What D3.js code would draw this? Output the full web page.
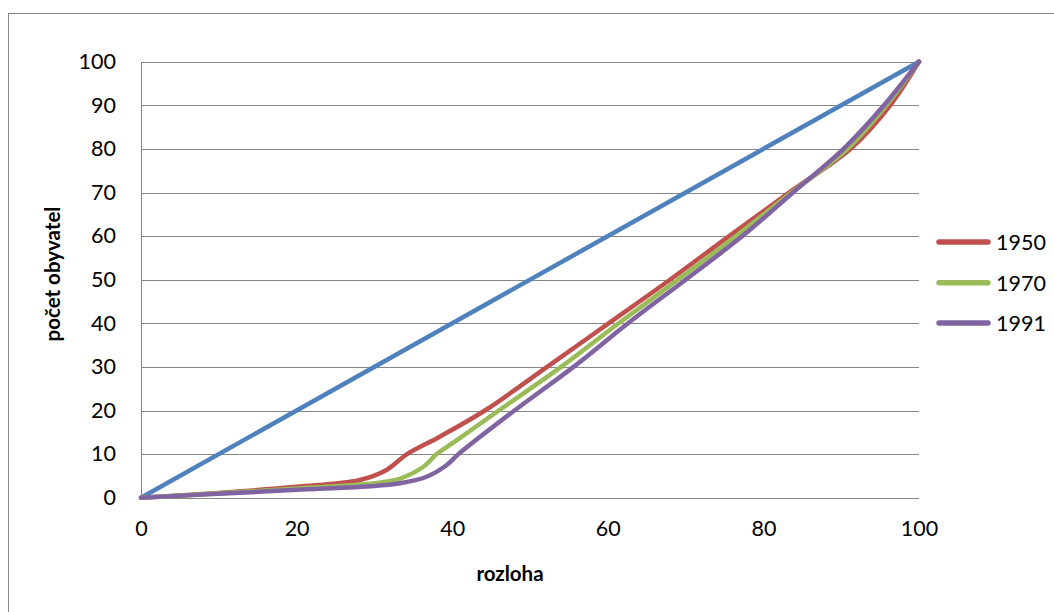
<!DOCTYPE html>
<html>
<head>
<meta charset="utf-8">
<script src="https://cdn.jsdelivr.net/npm/d3@7"></script>
<style>
  html, body { margin: 0; padding: 0; background: #fff; }
  svg { display: block; }
</style>
</head>
<body>
<svg id="chart" width="1054" height="612"></svg>
<script>
// ---- data ----
const xTicks = [0, 20, 40, 60, 80, 100];
const yTicks = [0, 10, 20, 30, 40, 50, 60, 70, 80, 90, 100];

const equalX = [0, 100];
const equalY = [0, 100];

const x1950 = [0, 10, 20, 28, 31.5, 34.2, 38.4, 44.2, 52.2, 60.1, 68.0, 75.6, 83.3, 91.2, 96.3, 100];
const y1950 = [0, 1.1, 2.5, 4, 6.3, 10, 14, 20, 30, 40, 50, 60, 70, 80, 90, 100];

const x1970 = [0, 10, 20, 30, 33.3, 36.3, 38, 40.6, 46.0, 54.0, 61.4, 69.0, 76.5, 83.6, 90.8, 95.8, 100];
const y1970 = [0, 1, 2.1, 3.3, 4.4, 7.1, 10, 13.2, 20, 30, 40, 50, 60, 70, 80, 90, 100];

const x1991 = [0, 10, 20, 30, 33.3, 36.7, 39.3, 40.8, 48.0, 55.6, 62.6, 70.0, 77.3, 83.8, 90.3, 95.5, 100];
const y1991 = [0, 0.9, 1.8, 2.7, 3.3, 4.8, 7.5, 10, 20, 30, 40, 50, 60, 70, 80, 90, 100];

const seriesNames = ["1950", "1970", "1991"];
const xTitle = "rozloha";
const yTitle = "počet obyvatel";

// ---- drawing ----
const svg = d3.select("#chart");
const font = "Lato, 'Open Sans', sans-serif";

svg.append("rect")
  .attr("x", 8.5).attr("y", 13.5)
  .attr("width", 1100).attr("height", 700)
  .attr("fill", "#fff").attr("stroke", "#868686").attr("stroke-width", 1);

const x = d3.scaleLinear().domain([0, 100]).range([141, 919]);
const y = d3.scaleLinear().domain([0, 100]).range([497.7, 61.7]);

// gridlines
svg.append("g").selectAll("line").data(yTicks).join("line")
  .attr("x1", x(0)).attr("x2", x(100))
  .attr("y1", d => Math.round(y(d)) + 0.5).attr("y2", d => Math.round(y(d)) + 0.5)
  .attr("stroke", "#868686").attr("stroke-width", 1);

// y axis line
svg.append("line")
  .attr("x1", x(0) + 0.5).attr("x2", x(0) + 0.5)
  .attr("y1", Math.round(y(100)) + 0.5).attr("y2", Math.round(y(0)) + 0.5)
  .attr("stroke", "#868686").attr("stroke-width", 1);

// y tick labels
const yAxis = d3.axisLeft(y).tickValues(yTicks).tickSize(0).tickPadding(25);
svg.append("g").attr("transform", `translate(${x(0)},0)`).call(yAxis)
  .call(g => g.select(".domain").remove())
  .call(g => g.selectAll("text").attr("font-family", font).attr("font-size", 21.5).attr("fill", "#000"));

// x tick labels
const xAxis = d3.axisBottom(x).tickValues(xTicks).tickSize(0).tickPadding(23);
svg.append("g").attr("transform", `translate(0,${y(0)})`).call(xAxis)
  .call(g => g.select(".domain").remove())
  .call(g => g.selectAll("text").attr("font-family", font).attr("font-size", 21.5).attr("fill", "#000"));

// axis titles
svg.append("text").attr("x", 510).attr("y", 573)
  .attr("text-anchor", "middle").attr("dominant-baseline", "central")
  .attr("font-family", font).attr("font-weight", "bold").attr("font-size", 20.5)
  .text(xTitle);
svg.append("text")
  .attr("transform", "translate(52,274) rotate(-90)")
  .attr("text-anchor", "middle").attr("dominant-baseline", "central")
  .attr("font-family", font).attr("font-weight", "bold").attr("font-size", 20.5)
  .text(yTitle);

// lines
const line = d3.line().x(d => x(d[0])).y(d => y(d[1])).curve(d3.curveCatmullRom.alpha(0.5));
const series = [
  { xs: equalX, ys: equalY, color: "#4F81BD" },
  { xs: x1950, ys: y1950, color: "#C0504D" },
  { xs: x1970, ys: y1970, color: "#9BBB59" },
  { xs: x1991, ys: y1991, color: "#8064A2" }
];
svg.append("g").selectAll("path").data(series).join("path")
  .attr("d", s => line(s.xs.map((v, i) => [v, s.ys[i]])))
  .attr("fill", "none").attr("stroke", s => s.color)
  .attr("stroke-width", 4.5).attr("stroke-linejoin", "round").attr("stroke-linecap", "round");

// legend
const legendY = [242, 282.7, 323];
const legend = svg.append("g");
seriesNames.forEach((name, i) => {
  const g = legend.append("g").attr("transform", `translate(0,${legendY[i]})`);
  g.append("line").attr("x1", 939).attr("x2", 988).attr("y1", 0).attr("y2", 0)
    .attr("stroke", series[i + 1].color).attr("stroke-width", 5.5).attr("stroke-linecap", "round");
  g.append("text").attr("x", 996).attr("y", 0).attr("dominant-baseline", "central")
    .attr("font-family", font).attr("font-size", 21.5).attr("fill", "#000").text(name);
});
</script>
</body>
</html>
